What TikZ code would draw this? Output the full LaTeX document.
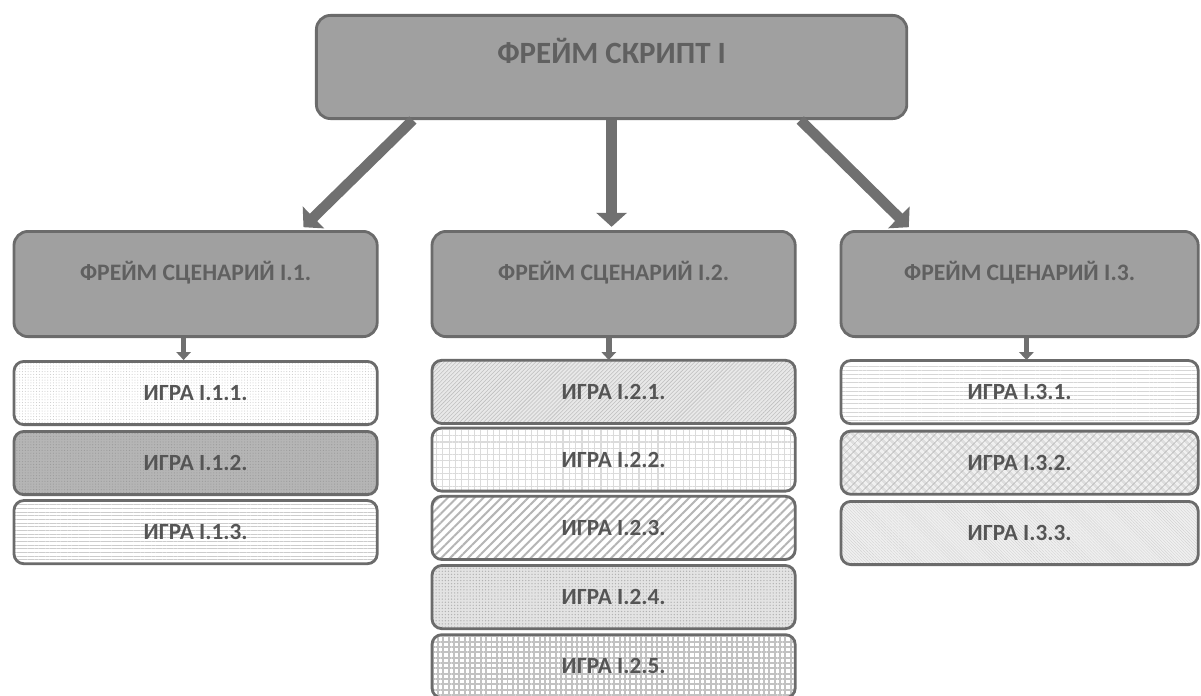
\documentclass[tikz,border=0pt]{standalone}
\usepackage{fontspec}
\setmainfont{Carlito}
\usepackage{tikz}
\usetikzlibrary{arrows.meta, positioning, calc, patterns.meta}
\definecolor{myline}{RGB}{107,107,107}
\definecolor{myfill}{RGB}{160,160,160}
\definecolor{mytext}{RGB}{96,96,96}
\definecolor{gametext}{RGB}{85,85,85}
\definecolor{myarrow}{RGB}{112,112,112}
\tikzset{
  framebox/.style={rectangle, draw=myline, fill=myfill, line width=2pt,
    rounded corners=10pt, text=mytext, text height=0.3cm, text depth=0.5cm},
  scenebox/.style={framebox, minimum width=9.08cm, minimum height=2.63cm,
    font=\bfseries\fontsize{16.8}{20}\selectfont},
  gamebox/.style={rectangle, draw=myline, line width=2pt, rounded corners=7pt,
    minimum width=9.08cm, minimum height=1.58cm, text=gametext,
    font=\bfseries\fontsize{16.5}{19}\selectfont},
  finedots/.style={preaction={fill=white}, pattern={Dots[distance=2pt, radius=0.35pt]}, pattern color=gray!45},
  darkdots/.style={preaction={fill=gray!58}, pattern={Dots[distance=2pt, radius=0.4pt]}, pattern color=gray!80},
  hlines/.style={preaction={fill=white}, pattern={Lines[angle=0, distance=2.6pt, line width=0.7pt]}, pattern color=gray!40},
  diaglight/.style={preaction={fill=gray!18}, pattern={Lines[angle=45, distance=2pt, line width=0.4pt]}, pattern color=gray!50},
  gridlight/.style={preaction={fill=white}, pattern={Hatch[angle=0, distance=4.5pt, line width=0.8pt]}, pattern color=gray!28},
  diagwide/.style={preaction={fill=white}, pattern={Lines[angle=45, distance=4.5pt, line width=1.4pt]}, pattern color=gray!58},
  confetti/.style={preaction={fill=gray!22}, pattern={Dots[distance=2.2pt, radius=0.5pt]}, pattern color=gray!60},
  checker/.style={preaction={fill=white}, pattern={Hatch[angle=0, distance=3.8pt, line width=1.4pt]}, pattern color=gray!48},
  dashlines/.style={preaction={fill=white}, pattern={Lines[angle=0, distance=3pt, line width=0.7pt]}, pattern color=gray!32},
  shingle/.style={preaction={fill=gray!12}, pattern={Hatch[angle=45, distance=4pt, line width=0.7pt]}, pattern color=gray!50},
  finediag/.style={preaction={fill=gray!12}, pattern={Lines[angle=-45, distance=1.5pt, line width=0.3pt]}, pattern color=gray!35},
  bigarrow/.style={-{Triangle[length=0.35cm, width=0.75cm]}, line width=0.26cm, color=myarrow},
  smallarrow/.style={-{Triangle[length=0.2cm, width=0.36cm]}, line width=0.14cm, color=myarrow}
}

\begin{document}
\begin{tikzpicture}
  \useasboundingbox (0,0) rectangle (30.025,-17.375);
  % Script frame
  \node[framebox, minimum width=14.76cm, minimum height=2.58cm,
    font=\bfseries\fontsize{22}{26}\selectfont] (script) at (15.29,-1.675) {ФРЕЙМ СКРИПТ I};

  % Scenario frames
  \node[scenebox, below=2.75cm of script, xshift=0.05cm] (scen2) {ФРЕЙМ СЦЕНАРИЙ I.2.};
  \node[scenebox, left=1.3cm of scen2] (scen1) {ФРЕЙМ СЦЕНАРИЙ I.1.};
  \node[scenebox, right=1.075cm of scen2, minimum width=8.93cm] (scen3) {ФРЕЙМ СЦЕНАРИЙ I.3.};

  % Games of scenario 1
  \node[gamebox, finedots, below=0.55cm of scen1] (g11) {ИГРА I.1.1.};
  \node[gamebox, darkdots, below=0.1cm of g11] (g12) {ИГРА I.1.2.};
  \node[gamebox, hlines, below=0.1cm of g12] (g13) {ИГРА I.1.3.};

  % Games of scenario 2
  \node[gamebox, diaglight, below=0.55cm of scen2] (g21) {ИГРА I.2.1.};
  \node[gamebox, gridlight, below=0.09cm of g21] (g22) {ИГРА I.2.2.};
  \node[gamebox, diagwide, below=0.09cm of g22] (g23) {ИГРА I.2.3.};
  \node[gamebox, confetti, below=0.09cm of g23] (g24) {ИГРА I.2.4.};
  \node[gamebox, checker, below=0.09cm of g24] (g25) {ИГРА I.2.5.};

  % Games of scenario 3
  \node[gamebox, dashlines, minimum width=8.93cm, below=0.55cm of scen3] (g31) {ИГРА I.3.1.};
  \node[gamebox, shingle, minimum width=8.93cm, below=0.16cm of g31] (g32) {ИГРА I.3.2.};
  \node[gamebox, finediag, minimum width=8.93cm, below=0.16cm of g32] (g33) {ИГРА I.3.3.};

  % Arrows
  \draw[bigarrow, shorten >=0.1cm] ($(script.south west)!0.165!(script.south east)$) -- ($(scen1.north west)!0.787!(scen1.north east)$);
  \draw[bigarrow, shorten >=0.08cm] (script.south) -- (script.south |- scen2.north);
  \draw[bigarrow, shorten >=0.1cm] ($(script.south west)!0.818!(script.south east)$) -- ($(scen3.north west)!0.2!(scen3.north east)$);
  \draw[smallarrow] ([xshift=-0.3cm]scen1.south) -- ([xshift=-0.3cm]g11.north);
  \draw[smallarrow] ([xshift=-0.12cm]scen2.south) -- ([xshift=-0.12cm]g21.north);
  \draw[smallarrow] ([xshift=0.17cm]scen3.south) -- ([xshift=0.17cm]g31.north);
\end{tikzpicture}
\end{document}
